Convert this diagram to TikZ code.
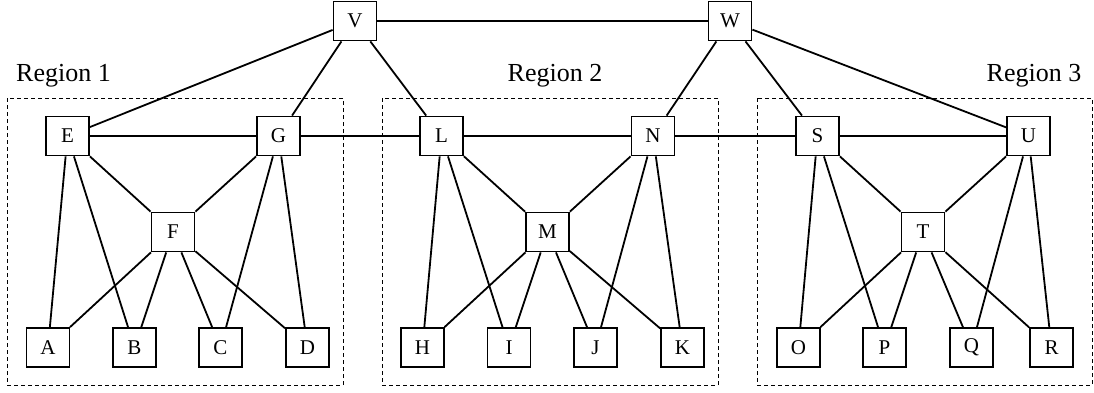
\documentclass[tikz,border=0pt]{standalone}
\usepackage{fontspec}
\setmainfont{Liberation Serif}
\usetikzlibrary{positioning}

\begin{document}
\begin{tikzpicture}[
  x=0.5pt,y=-0.5pt,
  font=\fontsize{10.5}{12}\selectfont,
  box/.style={draw,line width=0.9pt,fill=white,minimum width=21.5pt,
              minimum height=19.5pt,inner sep=0pt},
  edge/.style={draw,line width=0.9pt},
  regionbox/.style={draw,line width=0.5pt,dash pattern=on 2pt off 1.5pt},
  regionlbl/.style={anchor=base,font=\fontsize{13}{15}\selectfont},
]
\useasboundingbox (0,0) rectangle (1094,392);

% Region frames and their titles
\draw[regionbox] (7,98) rectangle (343,385);
\draw[regionbox] (382,98) rectangle (718,385);
\draw[regionbox] (757,98) rectangle (1092,385);
\node[regionlbl] (r1) at (63.5,81) {Region 1};
\node[regionlbl] (r2) at (555,81) {Region 2};
\node[regionlbl] (r3) at (1034,81) {Region 3};

% Top level
\node[box] (V) at (355,21) {V};
\node[box] (W) at (730,21) {W};

% Region 1
\node[box] (E) at (67.5,136) {E};
\node[box] (G) at (278.5,136) {G};
\node[box] (F) at (173,232) {F};
\node[box] (A) at (48,347.5) {A};
\node[box] (B) at (134.5,347.5) {B};
\node[box] (C) at (220.5,347.5) {C};
\node[box] (D) at (307.5,347.5) {D};

% Region 2
\node[box] (L) at (441.5,136) {L};
\node[box] (N) at (653,136) {N};
\node[box] (M) at (547.5,232) {M};
\node[box] (H) at (422.5,347.5) {H};
\node[box] (I) at (509,347.5) {I};
\node[box] (J) at (595.5,347.5) {J};
\node[box] (K) at (682.5,347.5) {K};

% Region 3
\node[box] (S) at (817.5,136) {S};
\node[box] (U) at (1028.5,136) {U};
\node[box] (T) at (923,232) {T};
\node[box] (O) at (798.5,347.5) {O};
\node[box] (P) at (884.5,347.5) {P};
\node[box] (Q) at (971.5,347.5) {Q};
\node[box] (R) at (1051.5,347.5) {R};

% Links
\foreach \a/\b in {V/W,V/E,V/G,V/L,W/N,W/S,W/U,
                   E/G,G/L,L/N,N/S,S/U,
                   E/A,E/B,E/F,G/F,G/C,G/D,F/A,F/B,F/C,F/D,
                   L/H,L/I,L/M,N/M,N/J,N/K,M/H,M/I,M/J,M/K,
                   S/O,S/P,S/T,U/T,U/Q,U/R,T/O,T/P,T/Q,T/R}
  \draw[edge] (\a) -- (\b);
\end{tikzpicture}
\end{document}
